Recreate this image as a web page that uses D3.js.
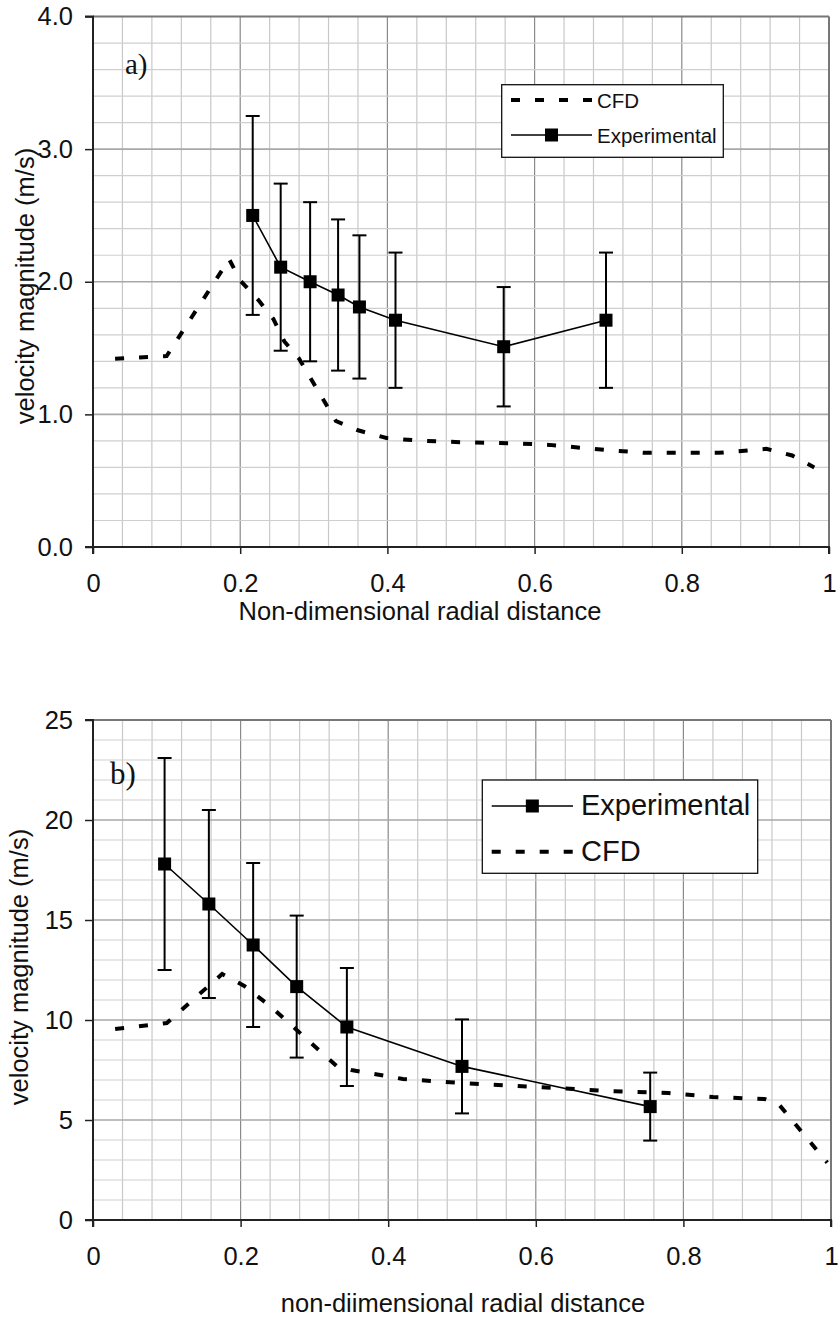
<!DOCTYPE html>
<html><head><meta charset="utf-8">
<script src="https://cdn.jsdelivr.net/npm/d3@7/dist/d3.min.js"></script>
<style>body{margin:0;background:#fff}svg{display:block}</style>
</head><body>
<script>
// ---------- Chart a) data ----------
const aCfdX = [0.03, 0.10, 0.185, 0.20, 0.225, 0.245, 0.26, 0.28, 0.33, 0.36, 0.40, 0.45, 0.50, 0.58, 0.62, 0.70, 0.75, 0.80, 0.85, 0.915, 0.95, 0.98];
const aCfdY = [1.42, 1.44, 2.17, 2.01, 1.86, 1.72, 1.55, 1.42, 0.95, 0.88, 0.82, 0.80, 0.79, 0.78, 0.77, 0.73, 0.71, 0.71, 0.71, 0.74, 0.69, 0.60];
const aExpX = [0.217, 0.255, 0.295, 0.333, 0.362, 0.411, 0.558, 0.697];
const aExpY = [2.50, 2.11, 2.00, 1.90, 1.81, 1.71, 1.51, 1.71];
const aExpErr = [0.75, 0.63, 0.60, 0.57, 0.54, 0.51, 0.45, 0.51];
const aYTicks = ["0.0", "1.0", "2.0", "3.0", "4.0"];
const aXTicks = ["0", "0.2", "0.4", "0.6", "0.8", "1"];

// ---------- Chart b) data ----------
const bCfdX = [0.03, 0.10, 0.175, 0.205, 0.24, 0.33, 0.35, 0.42, 0.50, 0.60, 0.70, 0.78, 0.84, 0.91, 0.93, 0.995];
const bCfdY = [9.55, 9.85, 12.3, 11.7, 10.7, 7.7, 7.5, 7.05, 6.85, 6.65, 6.45, 6.35, 6.15, 6.05, 5.75, 2.87];
const bExpX = [0.097, 0.157, 0.217, 0.276, 0.344, 0.500, 0.755];
const bExpY = [17.8, 15.8, 13.75, 11.67, 9.65, 7.68, 5.67];
const bExpErr = [5.3, 4.7, 4.1, 3.55, 2.95, 2.35, 1.7];
const bYTicks = ["0", "5", "10", "15", "20", "25"];
const bXTicks = ["0", "0.2", "0.4", "0.6", "0.8", "1"];

const W = 839, H = 1319;
const FONT = "'Liberation Sans', Arial, sans-serif";
const SERIF = "'Liberation Serif', 'Times New Roman', serif";

const svg = d3.select("body").append("svg").attr("width", W).attr("height", H);

function drawChart(o) {
  const x = d3.scaleLinear().domain([0, 1]).range([o.left, o.right]);
  const y = d3.scaleLinear().domain([0, o.ymax]).range([o.bottom, o.top]);
  const g = svg.append("g");

  // grid
  const xMinor = d3.range(1, 25).map(i => i * 0.04);
  g.selectAll(null).data(xMinor).enter().append("line")
    .attr("x1", d => x(d)).attr("x2", d => x(d))
    .attr("y1", o.top).attr("y2", o.bottom)
    .attr("stroke", d => (Math.abs(d * 5 - Math.round(d * 5)) < 1e-6) ? "#8a8a8a" : "#c8c8c8")
    .attr("stroke-width", 1.2);
  const nMinor = Math.round(o.ymax / o.yMinor);
  const yMinor = d3.range(1, nMinor).map(i => i * o.yMinor);
  g.selectAll(null).data(yMinor).enter().append("line")
    .attr("x1", o.left).attr("x2", o.right)
    .attr("y1", d => y(d)).attr("y2", d => y(d))
    .attr("stroke", d => (Math.abs(d / o.yMajor - Math.round(d / o.yMajor)) < 1e-6) ? "#a8a8a8" : "#cfcfcf")
    .attr("stroke-width", d => (Math.abs(d / o.yMajor - Math.round(d / o.yMajor)) < 1e-6) ? 1.6 : 1.2);

  // frame: top & right gray
  g.append("line").attr("x1", o.left).attr("x2", o.right).attr("y1", o.top).attr("y2", o.top)
    .attr("stroke", "#777").attr("stroke-width", 2);
  g.append("line").attr("x1", o.right).attr("x2", o.right).attr("y1", o.top).attr("y2", o.bottom)
    .attr("stroke", "#777").attr("stroke-width", 2);

  // axes
  const yVals = o.yTicks.map(Number);
  const xVals = o.xTicks.map(Number);
  const yAxis = d3.axisLeft(y).tickValues(yVals).tickFormat((d, i) => o.yTicks[i]).tickSize(8).tickPadding(12);
  const xAxis = d3.axisBottom(x).tickValues(xVals).tickFormat((d, i) => o.xTicks[i]).tickSize(7).tickPadding(o.xPad);
  const ya = g.append("g").attr("transform", `translate(${o.left},0)`).call(yAxis);
  const xa = g.append("g").attr("transform", `translate(0,${o.bottom})`).call(xAxis);
  [ya, xa].forEach(a => {
    a.select(".domain").attr("stroke", "#222").attr("stroke-width", 2);
    a.selectAll(".tick line").attr("stroke", "#222").attr("stroke-width", 1.5);
    a.selectAll(".tick text").attr("font-family", FONT).attr("font-size", 25.5).attr("fill", "#111");
  });
  ya.select(".domain").attr("d", `M-8,${o.top}H0V${o.bottom}H-8`);
  xa.select(".domain").attr("d", `M${o.left},7V0H${o.right}V7`);

  // CFD dashed line
  const cfd = o.cfdX.map((d, i) => [d, o.cfdY[i]]);
  g.append("path").datum(cfd)
    .attr("d", d3.line().x(d => x(d[0])).y(d => y(d[1])))
    .attr("fill", "none").attr("stroke", "#000").attr("stroke-width", 4)
    .attr("stroke-dasharray", "9 15");

  // experimental
  const ex = o.expX.map((d, i) => ({ x: d, y: o.expY[i], e: o.expErr[i] }));
  const eb = g.selectAll(null).data(ex).enter().append("g");
  eb.append("line").attr("x1", d => x(d.x)).attr("x2", d => x(d.x))
    .attr("y1", d => y(d.y + d.e)).attr("y2", d => y(d.y - d.e))
    .attr("stroke", "#000").attr("stroke-width", 2);
  [1, -1].forEach(s => {
    eb.append("line").attr("x1", d => x(d.x) - 7).attr("x2", d => x(d.x) + 7)
      .attr("y1", d => y(d.y + s * d.e)).attr("y2", d => y(d.y + s * d.e))
      .attr("stroke", "#000").attr("stroke-width", 2);
  });
  g.append("path").datum(ex)
    .attr("d", d3.line().x(d => x(d.x)).y(d => y(d.y)))
    .attr("fill", "none").attr("stroke", "#000").attr("stroke-width", 1.6);
  g.selectAll(null).data(ex).enter().append("rect")
    .attr("x", d => x(d.x) - 6.5).attr("y", d => y(d.y) - 6.5)
    .attr("width", 13).attr("height", 13).attr("fill", "#000");

  // legend
  const L = o.legend;
  g.append("rect").attr("x", L.x).attr("y", L.y).attr("width", L.w).attr("height", L.h)
    .attr("fill", "#fff").attr("stroke", "#111").attr("stroke-width", 1.3);
  L.items.forEach(it => {
    if (it.type === "cfd") {
      g.append("line").attr("x1", L.lx1).attr("x2", L.lx2).attr("y1", it.ly).attr("y2", it.ly)
        .attr("stroke", "#000").attr("stroke-width", 4).attr("stroke-dasharray", "9 15");
    } else {
      g.append("line").attr("x1", L.lx1).attr("x2", L.lx2).attr("y1", it.ly).attr("y2", it.ly)
        .attr("stroke", "#000").attr("stroke-width", 1.6);
      const mx = (L.lx1 + L.lx2) / 2;
      g.append("rect").attr("x", mx - 6.5).attr("y", it.ly - 6.5).attr("width", 13).attr("height", 13).attr("fill", "#000");
    }
    g.append("text").attr("x", L.tx).attr("y", it.ty).text(it.label)
      .attr("font-family", FONT).attr("font-size", L.fs).attr("fill", "#111");
  });

  // panel letter
  g.append("text").attr("x", o.letter.x).attr("y", o.letter.y).text(o.letter.t)
    .attr("font-family", SERIF).attr("font-size", o.letter.fs).attr("fill", "#111");

  // axis titles
  g.append("text").attr("x", o.xTitle.x).attr("y", o.xTitle.y).attr("text-anchor", "middle")
    .text(o.xTitle.t).attr("font-family", FONT).attr("font-size", 25.5).attr("fill", "#111");
  g.append("text").attr("transform", `translate(${o.yTitle.x},${o.yTitle.y}) rotate(-90)`)
    .attr("text-anchor", "middle").text(o.yTitle.t)
    .attr("font-family", FONT).attr("font-size", 25.5).attr("fill", "#111");
}

drawChart({
  left: 93, right: 829, top: 16.5, bottom: 547, ymax: 4, yMinor: 0.2, yMajor: 1,
  yTicks: aYTicks, xTicks: aXTicks, xPad: 20,
  cfdX: aCfdX, cfdY: aCfdY, expX: aExpX, expY: aExpY, expErr: aExpErr,
  legend: { x: 501.7, y: 84.7, w: 221.6, h: 72.6, lx1: 511, lx2: 592, tx: 597, fs: 20.5,
    items: [{ type: "cfd", label: "CFD", ly: 100, ty: 108 }, { type: "exp", label: "Experimental", ly: 135, ty: 142.5 }] },
  letter: { t: "a)", x: 125, y: 74, fs: 29 },
  xTitle: { t: "Non-dimensional radial distance", x: 420, y: 620 },
  yTitle: { t: "velocity magnitude (m/s)", x: 33.5, y: 286 }
});

drawChart({
  left: 93, right: 831, top: 720, bottom: 1220, ymax: 25, yMinor: 1, yMajor: 5,
  yTicks: bYTicks, xTicks: bXTicks, xPad: 20,
  cfdX: bCfdX, cfdY: bCfdY, expX: bExpX, expY: bExpY, expErr: bExpErr,
  legend: { x: 482.3, y: 780, w: 275.4, h: 93.3, lx1: 491.7, lx2: 573, tx: 581, fs: 29,
    items: [{ type: "exp", label: "Experimental", ly: 806, ty: 815 }, { type: "cfd", label: "CFD", ly: 851.7, ty: 861 }] },
  letter: { t: "b)", x: 110, y: 784, fs: 31 },
  xTitle: { t: "non-diimensional radial distance", x: 463, y: 1311.5 },
  yTitle: { t: "velocity magnitude (m/s)", x: 27.5, y: 967 }
});
</script>
</body></html>
